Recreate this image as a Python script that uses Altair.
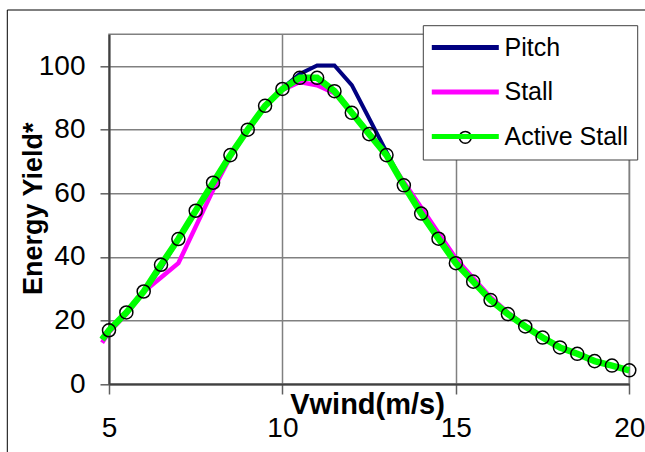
import altair as alt
import pandas as pd

# ---- data ----
wind = [4.8, 5.0, 5.5, 6.0, 6.5, 7.0, 7.5, 8.0, 8.5, 9.0, 9.5, 10.0, 10.5, 11.0, 11.5, 12.0,
        12.5, 13.0, 13.5, 14.0, 14.5, 15.0, 15.5, 16.0, 16.5, 17.0, 17.5, 18.0, 18.5, 19.0, 19.5, 20.0]
pitch = [14.0, 16.9, 22.5, 29.1, 36.5, 45.6, 54.5, 63.3, 72.0, 80.0, 87.5, 93.0, 97.5, 100.2, 100.2, 94.0,
         83.5, 73.0, 62.5, 53.6, 45.7, 38.0, 32.2, 26.4, 22.0, 18.1, 14.6, 11.5, 9.5, 7.2, 5.8, 4.3]
stall = [13.0, 16.3, 22.0, 29.0, 33.5, 38.0, 49.5, 61.0, 71.5, 80.0, 87.5, 92.5, 95.0, 94.0, 91.5, 85.5,
         79.0, 72.0, 63.5, 55.5, 47.5, 39.5, 33.3, 27.3, 22.5, 18.3, 14.6, 11.5, 9.5, 7.2, 5.8, 4.3]
active = [14.0, 16.9, 22.5, 29.1, 37.5, 45.6, 54.5, 63.3, 72.0, 80.0, 87.5, 92.8, 96.3, 96.3, 92.1, 85.3,
          78.6, 72.0, 62.5, 53.6, 45.7, 38.0, 32.2, 26.4, 22.0, 18.1, 14.6, 11.5, 9.5, 7.2, 5.8, 4.3]

series_names = ["Pitch", "Stall", "Active Stall"]
series_colors = ["#000080", "#FF00FF", "#00FF00"]
series_widths = [4, 4.5, 6.5]
x_ticks = [5, 10, 15, 20]
y_ticks = [0, 20, 40, 60, 80, 100]

rows = []
for name, vals in zip(series_names, [pitch, stall, active]):
    for w, v in zip(wind, vals):
        rows.append({"wind": w, "yield": v, "series": name})
df = pd.DataFrame(rows)

FONT = "Liberation Sans"
W, H = 520.3, 349.7

xenc = alt.X("wind:Q", scale=alt.Scale(domain=[5, 20], nice=False, zero=False),
             axis=alt.Axis(values=x_ticks, title="Vwind(m/s)", titleX=258, titleY=29.5,
                           titleBaseline="alphabetic", titleAlign="center", titleFontSize=29,
                           labelBaseline="alphabetic", labelPadding=42.7, tickSize=10,
                           labelFlush=False))
yenc = alt.Y("yield:Q", scale=alt.Scale(domain=[0, 110], nice=False),
             axis=alt.Axis(values=y_ticks, title="Energy Yield*", titleAngle=270,
                           titleX=-68, titleY=174, titleBaseline="alphabetic",
                           titleAlign="center", titleFontSize=27, tickSize=9, labelPadding=15))
color = alt.Color("series:N",
                  scale=alt.Scale(domain=series_names, range=series_colors),
                  legend=alt.Legend(title=None, orient="none", legendX=314.3, legendY=-9.3,
                                    padding=8.5, symbolType="M-3,0L3,0", symbolSize=499,
                                    symbolStrokeWidth=5, symbolOffset=19.5, labelOffset=25.2,
                                    rowPadding=17.5, labelFontSize=25, labelFont=FONT,
                                    labelColor="black", labelLimit=400))

base = alt.Chart(df)

frame = alt.Chart(pd.DataFrame({"k": [0]})).mark_rect(
    fill="white", fillOpacity=0, stroke="black", strokeWidth=1
).encode(x=alt.value(-101.7), x2=alt.value(560), y=alt.value(-24.3), y2=alt.value(440))

lines = []
for name, w in zip(series_names, series_widths):
    lines.append(
        base.transform_filter(alt.datum.series == name)
        .mark_line(strokeWidth=w)
        .encode(x=xenc, y=yenc, color=color)
    )

points = base.transform_filter(
    (alt.datum.series == "Active Stall") & (alt.datum.wind >= 5)
).mark_point(shape="circle", filled=False, stroke="black", strokeWidth=1.5, size=170,
             opacity=1).encode(x=xenc, y=yenc)

legend_box = alt.Chart(pd.DataFrame({"k": [0]})).mark_rect(
    fill="white", stroke="#404040", strokeWidth=1
).encode(x=alt.value(314.3), x2=alt.value(528.7), y=alt.value(-8.6), y2=alt.value(125.7))

legend_dot = alt.Chart(pd.DataFrame({"k": [0]})).mark_point(
    shape="circle", filled=False, stroke="black", strokeWidth=1.5, size=140, opacity=1
).encode(x=alt.value(356.3), y=alt.value(103))

chart = alt.layer(frame, *lines, points, legend_box, legend_dot).properties(
    width=W, height=H,
    autosize=alt.AutoSizeParams(type="none"),
    padding={"left": 109, "top": 34.3, "right": 15.7, "bottom": 68.0},
    background="white",
).configure_view(
    stroke="#808080", strokeWidth=1.5
).configure_axis(
    labelFont=FONT, labelFontSize=28, labelColor="black",
    titleFont=FONT, titleFontWeight="bold", titleColor="black",
    gridColor="#808080", gridWidth=1.5, gridOpacity=1,
    domainColor="#404040", domainWidth=2,
    tickColor="#606060", tickWidth=1.5,
)

chart.save("out.html", embed_options={"renderer": "svg", "actions": False})
